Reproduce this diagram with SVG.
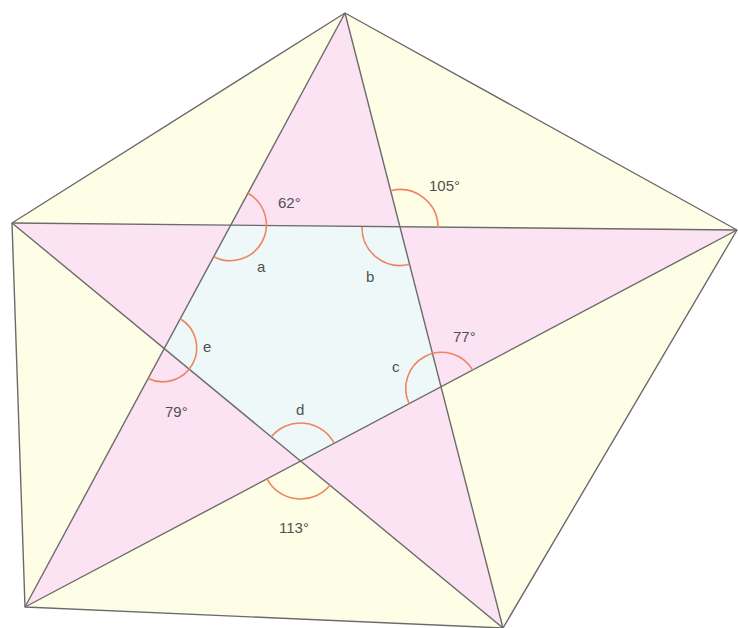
<svg xmlns="http://www.w3.org/2000/svg" width="738" height="628" viewBox="0 0 738 628">
<style>
.edge{fill:none;stroke:#6b6b6b;stroke-width:1.4;stroke-linejoin:round}
.arc{fill:none;stroke:#ef8460;stroke-width:1.6}
.lbl{font-family:"Liberation Sans","Open Sans",sans-serif;font-size:15px;fill:#505050}
</style>
<rect width="738" height="628" fill="#ffffff"/>
<g id="fills">
<polygon points="345,13 737,230 503,628 25,607 12,223" fill="#fefee6"/>
<path d="M345,13 L25,607 L737,230 L12,223 L503,628 Z" fill="#fce3f4" fill-rule="nonzero"/>
<polygon points="231,225 400,227.5 441,387 300.6,461 164.2,348.6" fill="#eef8f9"/>
</g>
<g id="connectors">
<polygon class="edge" points="345,13 737,230 503,628 25,607 12,223"/>
<line class="edge" x1="345" y1="13" x2="25" y2="607"/>
<line class="edge" x1="345" y1="13" x2="503" y2="628"/>
<line class="edge" x1="12" y1="223" x2="737" y2="230"/>
<line class="edge" x1="12" y1="223" x2="503" y2="628"/>
<line class="edge" x1="737" y1="230" x2="25" y2="607"/>
</g>
<g id="angle-a">
<path class="arc" d="M248,193.3 A36,36 0 0 1 213.9,256.7"/>
<text class="lbl" x="278" y="208">62°</text>
<text class="lbl" x="257" y="272">a</text>
</g>
<g id="angle-b">
<path class="arc" d="M390.6,190.7 A38,38 0 0 1 438,227.9"/>
<path class="arc" d="M362,227.1 A38,38 0 0 0 409.4,264.3"/>
<text class="lbl" x="429" y="191">105°</text>
<text class="lbl" x="366" y="282">b</text>
</g>
<g id="angle-c">
<path class="arc" d="M409.2,403.8 A36,36 0 0 1 472.8,370.2"/>
<text class="lbl" x="453" y="342">77°</text>
<text class="lbl" x="392" y="372">c</text>
</g>
<g id="angle-d">
<path class="arc" d="M271.3,436.8 A38,38 0 0 1 334.2,443.2"/>
<path class="arc" d="M267,478.8 A38,38 0 0 0 329.9,485.2"/>
<text class="lbl" x="296" y="415">d</text>
<text class="lbl" x="279" y="533">113°</text>
</g>
<g id="angle-e">
<path class="arc" d="M180.3,318.7 A34,34 0 0 1 148.1,378.5"/>
<text class="lbl" x="203" y="352">e</text>
<text class="lbl" x="165" y="417">79°</text>
</g>
</svg>
